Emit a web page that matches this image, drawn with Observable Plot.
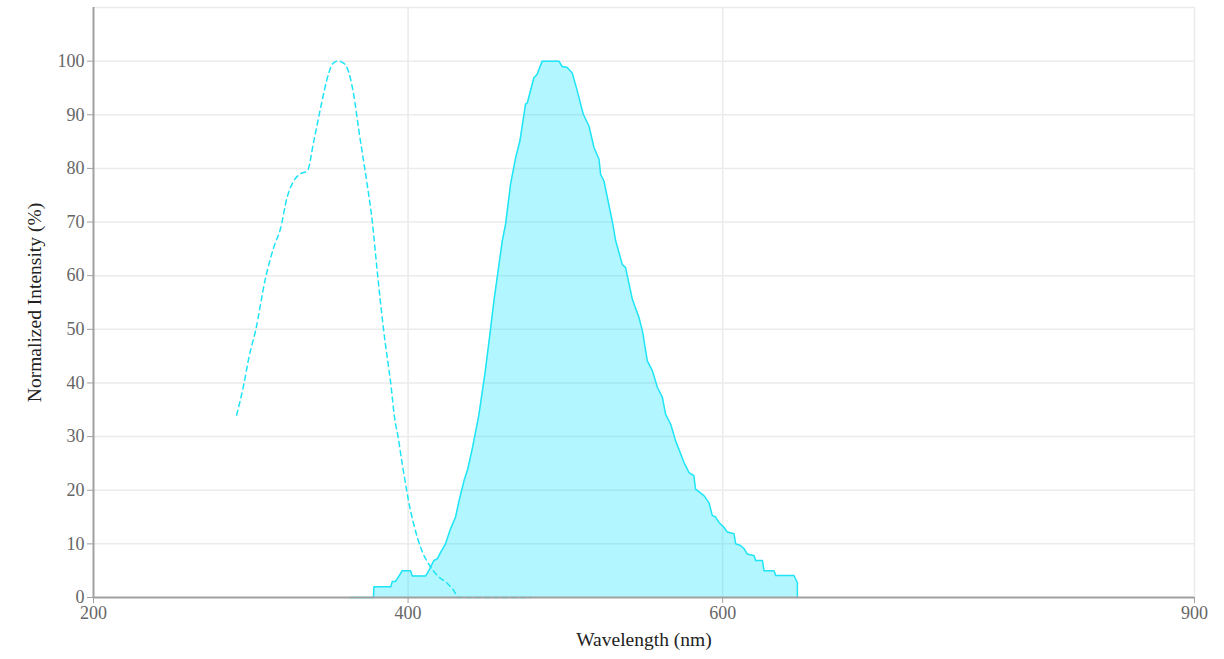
<!DOCTYPE html>
<html>
<head>
<meta charset="utf-8">
<script src="https://cdn.jsdelivr.net/npm/d3@7"></script>
<script src="https://cdn.jsdelivr.net/npm/@observablehq/plot@0.6"></script>
<style>
  body { margin: 0; background: white; }
</style>
</head>
<body>
<div id="chart"></div>
<script>
// emission spectrum (solid, filled)
const emWl = [363, 378, 378.3, 389, 390, 392, 394.2, 396.3, 401.6, 402.7, 411.1, 413.2, 416.4, 418.6, 420.7,
  423.8, 427, 430.2, 432.4, 435.6, 438, 441, 445, 449, 452, 454.6, 459.9, 462, 465.2, 468.4, 471.1, 474.7,
  475.8, 480, 482, 485.3, 495.9, 498, 501.2, 504.4, 507.6, 511.4, 515, 518.2, 521.4, 522.4, 524.5, 529.8,
  532, 536.2, 538.3, 542.6, 546.8, 549, 552.1, 555.3, 558.5, 561.7, 563.7, 567, 570.1, 575.4, 578.6, 581.7,
  582.8, 588.1, 591.3, 593.4, 595.5, 597.7, 600.8, 603, 607.2, 608.3, 611.4, 613.6, 615.7, 620, 621, 625.3,
  626.3, 632.7, 633.7, 645.3, 647.5, 647.5]
const emVal = [0, 0, 2, 2, 3, 3, 4, 5, 5, 4, 4, 5, 6.9, 7.2, 8.4,
  10, 12.8, 15, 18, 21.8, 24, 28, 34, 42, 49, 55.3, 66.5, 69.6, 77.1, 82, 85.1, 92,
  92.2, 96.9, 97.5, 100, 100, 99, 98.8, 97.8, 94.4, 90.1, 87.9, 83.9, 81.7, 78.9, 77.7, 70.2,
  66.5, 62.1, 61.5, 55.6, 52.2, 49.7, 44.1, 42.3, 39.2, 37.3, 34.2, 32.3, 29.2, 25.2, 23.3, 22.7,
  20.2, 19, 17.7, 15.3, 15, 14, 13.1, 12.2, 11.9, 10, 9.7, 9.1, 8.1, 7.8, 6.9, 6.9,
  5, 5, 4.1, 4.1, 2.8, 0]

// excitation spectrum (dashed)
const exWl = [291, 295.4, 299, 303, 309.4, 314.5, 319, 323, 327, 331.6, 335.9, 340, 344.4, 349.4, 352, 355,
  358, 361.3, 365.4, 368.5, 371.7, 374, 377.2, 380.4, 384.4, 388.9, 392, 393, 396.3, 399.4, 400.3, 403.5,
  408, 413, 418.6, 425, 429, 432, 478]
const exVal = [34, 39.5, 45, 49.7, 59.6, 65.2, 68.9, 74.5, 77.5, 79, 79.5, 85, 91.3, 97.6, 99.5, 100,
  99.8, 98.7, 93.8, 87.5, 81.4, 77, 70.2, 60.8, 50, 40.1, 32.4, 31, 24.9, 19.5, 18, 13.8,
  9.3, 6.3, 4.1, 2.6, 1.3, 0, 0]

const xTicks = [200, 400, 600, 900]
const yTicks = [0, 10, 20, 30, 40, 50, 60, 70, 80, 90, 100]

const emission = emWl.map((w, i) => ({wl: w, v: emVal[i]}))
const excitation = exWl.map((w, i) => ({wl: w, v: exVal[i]}))

const cyan = '#1de4f6'
const axisGray = '#a0a0a0'

const chart = Plot.plot({
  width: 1224,
  height: 659,
  marginLeft: 93,
  marginRight: 30,
  marginTop: 7,
  marginBottom: 62,
  x: {domain: [200, 900]},
  y: {domain: [0, 110]},
  style: {
    fontFamily: '"Liberation Serif", "DejaVu Serif", serif',
    fontSize: '18px',
    background: 'white',
    color: '#222'
  },
  marks: [
    Plot.gridY([10, 20, 30, 40, 50, 60, 70, 80, 90, 100, 110], {stroke: '#ebebeb', strokeOpacity: 1, strokeWidth: 1.5}),
    Plot.gridX([400, 600, 900], {stroke: '#ebebeb', strokeOpacity: 1, strokeWidth: 1.5}),
    Plot.areaY(emission, {x: 'wl', y: 'v', fill: '#00e5ff', fillOpacity: 0.3}),
    Plot.line(emission, {x: 'wl', y: 'v', stroke: cyan, strokeWidth: 1.5}),
    Plot.line(excitation, {x: 'wl', y: 'v', stroke: cyan, strokeWidth: 1.5, strokeDasharray: '5,4', curve: 'monotone-x'}),
    Plot.ruleY([0], {stroke: axisGray, strokeWidth: 2}),
    Plot.ruleX([200], {stroke: axisGray, strokeWidth: 2}),
    Plot.axisX({
      ticks: xTicks,
      tickSize: 6,
      stroke: axisGray,
      color: '#666',
      label: 'Wavelength (nm)',
      labelAnchor: 'center',
      labelArrow: 'none',
      labelOffset: 48,
      tickFormat: d => String(d)
    }),
    Plot.axisY({
      ticks: yTicks,
      tickSize: 6,
      stroke: axisGray,
      color: '#666',
      label: 'Normalized Intensity (%)',
      labelAnchor: 'center',
      labelArrow: 'none',
      labelOffset: 66,
      tickFormat: d => String(d)
    })
  ]
})

d3.select('#chart').append(() => chart)
// axis titles darker and a bit larger than tick labels
d3.select(chart).selectAll('[aria-label="x-axis label"] text, [aria-label="y-axis label"] text')
  .attr('fill', '#222')
  .style('font-size', '19.5px')
</script>
</body>
</html>
